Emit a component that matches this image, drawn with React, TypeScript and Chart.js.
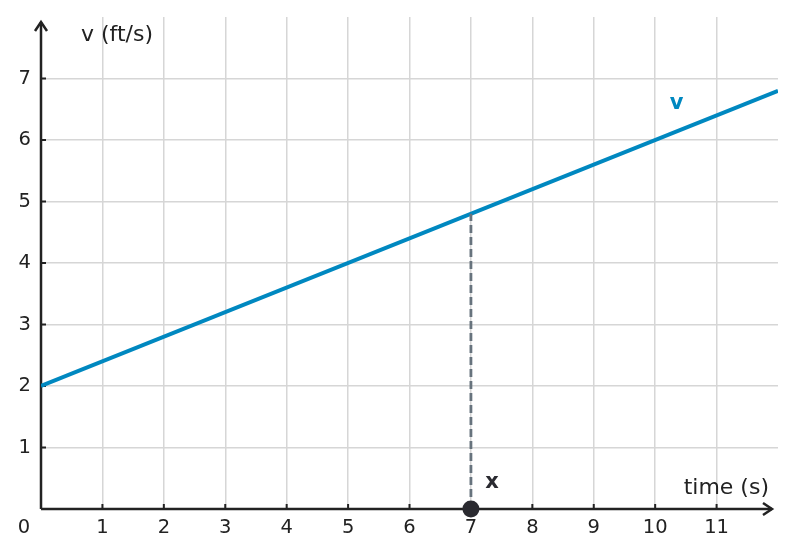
import React, { useEffect, useRef } from 'react';
import { Chart, registerables } from 'chart.js';

// velocity line, v = 2 + 0.4 t
const lineTimes = [0, 12];
const lineValues = [2, 6.8];
// marked instant
const markTime = 7;
const markValue = 4.8;

const xTicks = [1, 2, 3, 4, 5, 6, 7, 8, 9, 10, 11];
const yTicks = [1, 2, 3, 4, 5, 6, 7];

const FONT = '"DejaVu Sans", sans-serif';
const AXIS = '#222222';

const axesPlugin = {
  id: 'axes',
  beforeDatasetsDraw(chart: any) {
    const { ctx, chartArea, scales } = chart;
    const x = scales.x;
    const y = scales.y;
    const x0 = x.getPixelForValue(0);
    const y0 = y.getPixelForValue(0);
    ctx.save();
    ctx.strokeStyle = AXIS;
    ctx.lineWidth = 2.5;
    ctx.lineCap = 'butt';
    // y axis + arrow
    ctx.beginPath();
    ctx.moveTo(x0, y0);
    ctx.lineTo(x0, chartArea.top + 5);
    ctx.stroke();
    ctx.beginPath();
    ctx.moveTo(x0 - 6, chartArea.top + 14);
    ctx.lineTo(x0, chartArea.top + 5);
    ctx.lineTo(x0 + 6, chartArea.top + 14);
    ctx.stroke();
    // x axis + arrow
    const xr = chartArea.right - 6;
    ctx.beginPath();
    ctx.moveTo(x0, y0);
    ctx.lineTo(xr, y0);
    ctx.stroke();
    ctx.beginPath();
    ctx.moveTo(xr - 9, y0 - 6);
    ctx.lineTo(xr, y0);
    ctx.lineTo(xr - 9, y0 + 6);
    ctx.stroke();
    // tick marks
    ctx.lineWidth = 2;
    xTicks.forEach((t) => {
      const px = x.getPixelForValue(t);
      ctx.beginPath();
      ctx.moveTo(px, y0);
      ctx.lineTo(px, y0 - 5);
      ctx.stroke();
    });
    yTicks.forEach((t) => {
      const py = y.getPixelForValue(t);
      ctx.beginPath();
      ctx.moveTo(x0, py);
      ctx.lineTo(x0 + 5, py);
      ctx.stroke();
    });
    // tick labels
    ctx.fillStyle = AXIS;
    ctx.font = `19.5px ${FONT}`;
    ctx.textBaseline = 'middle';
    ctx.textAlign = 'center';
    xTicks.forEach((t) => {
      ctx.fillText(String(t), x.getPixelForValue(t), y0 + 19);
    });
    ctx.fillText('0', x0 - 17, y0 + 19);
    ctx.textAlign = 'right';
    yTicks.forEach((t) => {
      ctx.fillText(String(t), x0 - 10, y.getPixelForValue(t));
    });
    // axis titles
    ctx.font = `22px ${FONT}`;
    ctx.textAlign = 'left';
    ctx.fillText('v (ft/s)', x0 + 40, 35);
    ctx.textAlign = 'right';
    ctx.fillText('time (s)', chartArea.right - 9, y0 - 21);
    // series labels
    ctx.font = `bold 21px ${FONT}`;
    ctx.textAlign = 'center';
    ctx.fillStyle = '#0088c0';
    ctx.fillText('v', x.getPixelForValue(10.35), y.getPixelForValue(6.6));
    ctx.fillStyle = '#2a2a30';
    ctx.fillText('x', x.getPixelForValue(markTime) + 21, y0 - 26);
    ctx.restore();
  },
};

const App = () => {
  const chartRef = useRef<HTMLCanvasElement>(null);

  useEffect(() => {
    Chart.register(...registerables);
    document.body.style.margin = '0';

    const gridColor = (c: any) =>
      c.tick.value === 0 || c.tick.value === c.scale.max ? 'rgba(0,0,0,0)' : '#d6d6d6';

    const chart = new Chart(chartRef.current as HTMLCanvasElement, {
      type: 'scatter',
      data: {
        datasets: [
          {
            data: [{ x: markTime, y: 0 }],
            pointRadius: 8.5,
            pointBackgroundColor: '#2a2a30',
            pointBorderWidth: 0,
            clip: false as any,
            order: 0,
          },
          {
            data: [
              { x: markTime, y: 0 },
              { x: markTime, y: markValue },
            ],
            showLine: true,
            borderColor: '#67737d',
            borderWidth: 2.8,
            borderDash: [8, 4],
            pointRadius: 0,
            order: 1,
          },
          {
            data: lineTimes.map((t, i) => ({ x: t, y: lineValues[i] })),
            showLine: true,
            borderColor: '#0088c0',
            borderWidth: 4,
            pointRadius: 0,
            order: 2,
          },
        ],
      },
      options: {
        animation: false,
        responsive: false,
        layout: { padding: { left: 41, right: 18, top: 17, bottom: 48 } },
        plugins: { legend: { display: false }, tooltip: { enabled: false } },
        scales: {
          x: {
            type: 'linear',
            min: 0,
            max: 12,
            ticks: { display: false, stepSize: 1 },
            grid: { color: gridColor, lineWidth: 1.5, drawTicks: false },
            border: { display: false },
          },
          y: {
            type: 'linear',
            min: 0,
            max: 8,
            ticks: { display: false, stepSize: 1 },
            grid: { color: gridColor, lineWidth: 1.5, drawTicks: false },
            border: { display: false },
          },
        },
      },
      plugins: [axesPlugin],
    });

    return () => {
      chart.destroy();
    };
  }, []);

  return (
    <canvas
      ref={chartRef}
      width={796}
      height={557}
      style={{ position: 'absolute', left: 0, top: 0 }}
    />
  );
};

export default App;
